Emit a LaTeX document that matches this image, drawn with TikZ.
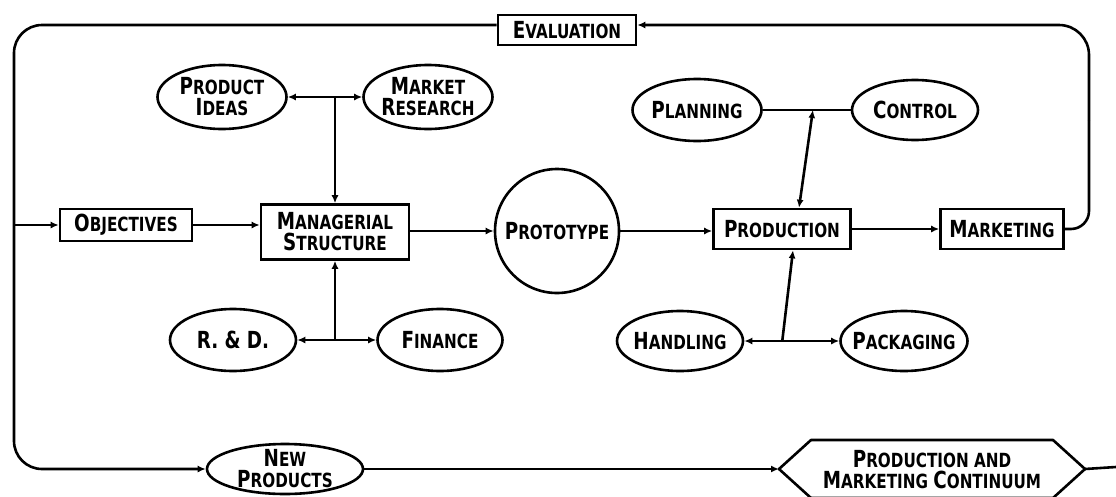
\documentclass[tikz,border=0pt]{standalone}
\usepackage{fontspec}
\newfontfamily\lettering{DejaVu Sans}[FakeStretch=0.78]
\usetikzlibrary{shapes.geometric,arrows.meta,calc}
\newcommand\Bg[1]{{\fontsize{23.5}{21}\selectfont #1}}
\begin{document}
\begin{tikzpicture}[x=1pt,y=-1pt,
  every node/.style={font=\lettering\bfseries\fontsize{19.5}{21}\selectfont, align=center, inner sep=0pt},
  boxnode/.style={draw, line width=2.6pt, rectangle},
  ovalnode/.style={draw, line width=2.6pt, ellipse},
  roundnode/.style={draw, line width=2.6pt, circle},
  conn/.style={line width=2.6pt, line join=round},
  arr/.style={conn, -{Latex[length=8pt,width=7pt]}},
  darr/.style={conn, {Latex[length=8pt,width=7pt]}-{Latex[length=8pt,width=7pt]}},
]
\useasboundingbox (0,0) rectangle (1116,496);

% boxes
\node[boxnode, minimum width=138pt, minimum height=30pt] (eval) at (567,30) {\Bg{E}VALUATION};
\node[boxnode, minimum width=132pt, minimum height=32pt] (obj) at (126,225) {\Bg{O}BJECTIVES};
\node[boxnode, minimum width=148pt, minimum height=55pt] (mgr) at (335,232) {\Bg{M}ANAGERIAL\\\Bg{S}TRUCTURE};
\node[boxnode, minimum width=137pt, minimum height=40pt] (prod) at (782,229) {\Bg{P}RODUCTION};
\node[boxnode, minimum width=123pt, minimum height=40pt] (mkt) at (1002,229) {\Bg{M}ARKETING};

% prototype
\node[roundnode, minimum size=124pt] (proto) at (557,231) {};
\node (protoT) at (proto) {\Bg{P}ROTOTYPE};

% ellipses
\node[ovalnode, minimum width=129pt, minimum height=64pt] (ideas) at (222,97) {};
\node (ideasT) at (ideas) {\Bg{P}RODUCT\\\Bg{I}DEAS};
\node[ovalnode, minimum width=129pt, minimum height=64pt] (market) at (428,97) {};
\node (marketT) at (market) {\Bg{M}ARKET\\\Bg{R}ESEARCH};
\node[ovalnode, minimum width=126pt, minimum height=62pt] (rd) at (233,340) {};
\node (rdT) at (rd) {\Bg{R. \& D.}};
\node[ovalnode, minimum width=125pt, minimum height=62pt] (fin) at (440,340) {};
\node (finT) at (fin) {\Bg{F}INANCE};
\node[ovalnode, minimum width=129pt, minimum height=62pt] (plan) at (697,110) {};
\node (planT) at (plan) {\Bg{P}LANNING};
\node[ovalnode, minimum width=126pt, minimum height=60pt] (ctrl) at (915,110) {};
\node (ctrlT) at (ctrl) {\Bg{C}ONTROL};
\node[ovalnode, minimum width=126pt, minimum height=60pt] (hand) at (680,341) {};
\node (handT) at (hand) {\Bg{H}ANDLING};
\node[ovalnode, minimum width=127pt, minimum height=60pt] (pack) at (904,341) {};
\node (packT) at (pack) {\Bg{P}ACKAGING};
\node[ovalnode, minimum width=156pt, minimum height=50pt] (newp) at (285,469) {};
\node (newpT) at (newp) {\Bg{N}EW\\\Bg{P}RODUCTS};

% hexagon
\coordinate (hexL) at (779,469);
\coordinate (hexR) at (1085,469);
\coordinate (edgeR) at (1116,467);
\draw[conn] (hexL) -- (811,440) -- (1053,440) -- (hexR) -- (1053,498) -- (811,498) -- cycle;
\node (contT) at (932,470) {\Bg{P}RODUCTION AND\\\Bg{M}ARKETING \Bg{C}ONTINUUM};

% outer loop
\coordinate (TL) at (14,25);
\coordinate (BL) at (14,469);
\coordinate (TR) at (1089,25);
\coordinate (MR) at (1089,229);
\coordinate (RM) at (1089,120);
\coordinate (objIn) at (14,225);
\draw[arr, rounded corners=28pt] (eval.west |- TL) -- (TL) -- (BL) -- (newp.west);
\draw[arr] (objIn) -- (obj.west);
\draw[conn, rounded corners=18pt] (mkt.east) -- (MR) -- (RM);
\draw[arr, rounded corners=30pt] (RM) -- (TR) -- (eval.east |- TR);

% main chain
\draw[arr] (obj.east) -- (obj.east -| mgr.west);
\draw[arr] (mgr.east |- proto) -- (proto.west);
\draw[arr] (proto.east) -- (proto.east -| prod.west);
\draw[arr] (prod.east) -- (prod.east -| mkt.west);
\draw[arr] (newp.east) -- (hexL);
\draw[conn] (hexR) -- (edgeR);

% managerial inputs
\draw[darr] (ideas.east) -- (market.west);
\coordinate (J1) at (mgr.north |- ideas.east);
\draw[arr] (J1) -- (mgr.north);
\draw[darr] (rd.east) -- (fin.west);
\coordinate (J2) at (mgr.south |- rd.east);
\draw[arr] (J2) -- (mgr.south);

% production inputs
\draw[conn] (plan.east) -- (ctrl.west);
\coordinate (J3) at ($(plan.east)!0.57!(ctrl.west)$);
\coordinate (P3) at ($(prod.north)+(17,0)$);
\draw[darr] (J3) -- (P3);
\draw[darr] (hand.east) -- (pack.west);
\coordinate (J4) at ($(hand.east)!0.4!(pack.west)$);
\coordinate (P4) at ($(prod.south)+(11,0)$);
\draw[arr] (J4) -- (P4);
\end{tikzpicture}
\end{document}
